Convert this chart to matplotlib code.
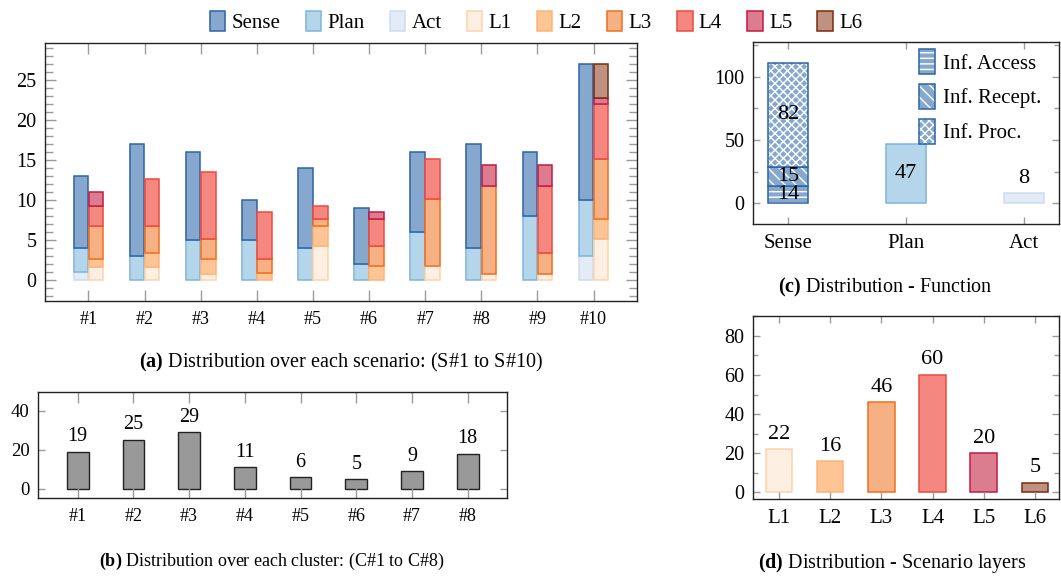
import numpy as np
import matplotlib
matplotlib.use("Agg")
import matplotlib.pyplot as plt
from matplotlib.patches import Patch
from matplotlib.legend_handler import HandlerTuple

plt.rcParams['font.family'] = ['Liberation Serif', 'DejaVu Serif']
plt.rcParams['mathtext.fontset'] = 'custom'
plt.rcParams['mathtext.rm'] = 'Liberation Serif'
plt.rcParams['mathtext.it'] = 'Liberation Serif:italic'
plt.rcParams['mathtext.bf'] = 'Liberation Serif:bold'
plt.rcParams['hatch.linewidth'] = 1.0

# (a) distribution over each scenario
scenarios = ['#%d' % i for i in range(1, 11)]
act_a = [1, 0, 0, 0, 0, 0, 0, 0, 0, 3]
plan_a = [3, 3, 5, 5, 4, 2, 6, 4, 8, 7]
sense_a = [9, 14, 11, 5, 10, 7, 10, 13, 8, 17]
l1_a = [1.7, 1.67, 0.75, 0, 4.25, 0, 1.75, 0.83, 0.83, 5.08]
l2_a = [0.9, 1.73, 1.83, 0.92, 2.5, 1.75, 0, 0, 0, 2.52]
l3_a = [4.15, 3.35, 2.5, 1.66, 0.83, 2.5, 8.42, 10.97, 2.59, 7.5]
l4_a = [2.55, 5.85, 8.38, 5.88, 1.72, 3.33, 5.0, 0, 8.38, 6.86]
l5_a = [1.7, 0, 0, 0, 0, 0.88, 0, 2.53, 2.53, 0.74]
l6_a = [0, 0, 0, 0, 0, 0, 0, 0, 0, 4.3]

# (b) distribution over each cluster
clusters = ['#%d' % i for i in range(1, 9)]
cluster_counts = [19, 25, 29, 11, 6, 5, 9, 18]

# (c) distribution - function
functions = ['Sense', 'Plan', 'Act']
inf_access = 14
inf_recept = 15
inf_proc = 82
plan_total = 47
act_total = 8

# (d) distribution - scenario layers
layers = ['L1', 'L2', 'L3', 'L4', 'L5', 'L6']
layer_counts = [22, 16, 46, 60, 20, 5]

# colours (fill, edge)
c_sense = ('#87A8CE', '#2B63A8')
c_plan = ('#B5D5EA', '#7EB5DB')
c_act = ('#E2EBF6', '#CCDDF0')
c_layers = [('#FDEFE2', '#FDD3AA'), ('#FDC594', '#FDB47A'), ('#F5B184', '#F26F1E'),
            ('#F4877F', '#EE4A3E'), ('#DB7D8F', '#C11B42'), ('#BE9280', '#7F2A0C')]

tick_gray = '#9A9A9A'
FS_TICK = 14.5
FS_VAL = 16
FS_CAP = 14.5


def style_axes(ax, minor=None, major_len=5, minor_len=3.5, ysize=FS_TICK):
    ax.tick_params(which='both', direction='in', top=True, right=True, color=tick_gray, width=1.0)
    ax.tick_params(which='major', length=major_len)
    ax.tick_params(which='minor', length=minor_len)
    ax.tick_params(axis='y', labelsize=ysize, pad=6)
    for s in ax.spines.values():
        s.set_linewidth(1.0)
        s.set_color('#222222')
    if minor is not None:
        ax.yaxis.set_minor_locator(matplotlib.ticker.MultipleLocator(minor))


fig = plt.figure(figsize=(10.61, 5.79), dpi=100)
W, H = 1061, 579


def add_ax(l, r, t, b):
    return fig.add_axes([l / W, 1 - b / H, (r - l) / W, (b - t) / H])


# ---------- (a)
ax = add_ax(45, 637, 43, 301)
x = np.arange(1, 11)
bw = 0.26
off = 0.135


def stack(ax, xs, segs, colors, w):
    bottom = np.zeros(len(xs))
    for vals, (fc, ec) in zip(segs, colors):
        vals = np.array(vals, dtype=float)
        m = vals > 0
        ax.bar(xs[m], vals[m], w, bottom=bottom[m], color=fc, edgecolor=ec, linewidth=1.1)
        bottom += vals


stack(ax, x - off, [act_a, plan_a, sense_a], [c_act, c_plan, c_sense], bw)
stack(ax, x + off, [l1_a, l2_a, l3_a, l4_a, l5_a, l6_a], c_layers, bw)
ax.set_xlim(1 - 0.775, 10 + 0.775)
ax.set_ylim(-2.6, 29.6)
ax.set_xticks(x)
ax.set_xticklabels(scenarios)
ax.set_yticks([0, 5, 10, 15, 20, 25])
style_axes(ax, minor=1, major_len=8, minor_len=5.5)
ax.tick_params(axis='x', which='major', length=8, labelsize=13, pad=7)

# ---------- (b)
ax = add_ax(38, 507, 392, 498)
xb = np.arange(1, 9)
ax.bar(xb, cluster_counts, 0.39, color='#999999', edgecolor='#222222', linewidth=1.0)
for xi, v in zip(xb, cluster_counts):
    ax.annotate(str(v), (xi, v), xytext=(0, 4), textcoords='offset points',
                ha='center', va='bottom', fontsize=14.5)
ax.set_xlim(1 - 0.713, 8 + 0.705)
ax.set_ylim(-4.6, 49.5)
ax.set_xticks(xb)
ax.set_xticklabels(clusters)
ax.set_yticks([0, 20, 40])
style_axes(ax, ysize=13.5)
ax.tick_params(axis='x', which='major', length=8, labelsize=13, pad=7)

# ---------- (c)
ax = add_ax(753, 1059, 42, 224)
xc = np.arange(3)
wc = 0.34
sense_parts = [inf_access, inf_recept, inf_proc]
hatches = ['---', '\\\\\\', 'xxxx']
bottom = 0
handles = []
for v, h in zip(sense_parts, hatches):
    ax.bar(xc[0], v, wc, bottom=bottom, color=c_sense[0], edgecolor='white', hatch=h, linewidth=0)
    ax.bar(xc[0], v, wc, bottom=bottom, color='none', edgecolor=c_sense[1], linewidth=1.1)
    ax.text(xc[0], bottom + v / 2, str(v), ha='center', va='center', fontsize=FS_VAL)
    handles.append((Patch(facecolor=c_sense[0], edgecolor='white', hatch=h, linewidth=0),
                    Patch(facecolor='none', edgecolor=c_sense[1], linewidth=1.1)))
    bottom += v
ax.bar(xc[1], plan_total, wc, color=c_plan[0], edgecolor=c_plan[1], linewidth=1.1)
ax.text(xc[1], plan_total / 2, str(plan_total), ha='center', va='center', fontsize=FS_VAL)
ax.bar(xc[2], act_total, wc, color=c_act[0], edgecolor=c_act[1], linewidth=1.1)
ax.annotate(str(act_total), (xc[2], act_total), xytext=(0, 4), textcoords='offset points',
            ha='center', va='bottom', fontsize=FS_VAL)
ax.set_xlim(-0.30, 2.30)
ax.set_ylim(-16.3, 127.4)
ax.set_xticks(xc)
ax.set_xticklabels(functions, fontsize=15)
ax.set_yticks([0, 50, 100])
style_axes(ax, minor=25)
ax.tick_params(axis='x', pad=7)
ax.legend(handles, ['Inf. Access', 'Inf. Recept.', 'Inf. Proc.'], loc='upper right',
          bbox_to_anchor=((1041 - 753) / 306, 1 - 7 / 182), frameon=False, fontsize=15,
          handlelength=0.8, handleheight=1.5, labelspacing=0.45, handletextpad=0.35,
          borderpad=0, borderaxespad=0,
          handler_map={tuple: HandlerTuple(ndivide=1)})

# ---------- (d)
ax = add_ax(753, 1059, 316, 499)
xd = np.arange(6)
for xi, v, (fc, ec) in zip(xd, layer_counts, c_layers):
    ax.bar(xi, v, 0.52, color=fc, edgecolor=ec, linewidth=1.1)
    ax.annotate(str(v), (xi, v), xytext=(0, 4), textcoords='offset points',
                ha='center', va='bottom', fontsize=FS_VAL)
ax.set_xlim(-0.506, 5.47)
ax.set_ylim(-3.4, 90.2)
ax.set_xticks(xd)
ax.set_xticklabels(layers, fontsize=15)
ax.set_yticks([0, 20, 40, 60, 80])
style_axes(ax, minor=10)
ax.tick_params(axis='x', pad=7)

# ---------- captions
fig.text(341 / W, 1 - 362 / H, r"$\mathbf{(a)}$ Distribution over each scenario: (S#1 to S#10)",
         ha='center', va='center', fontsize=FS_CAP)
fig.text(272 / W, 1 - 561 / H, r"$\mathbf{(b)}$ Distribution over each cluster: (C#1 to C#8)",
         ha='center', va='center', fontsize=13)
fig.text(885 / W, 1 - 287 / H, r"$\mathbf{(c)}$ Distribution - Function",
         ha='center', va='center', fontsize=FS_CAP)
fig.text(892 / W, 1 - 563 / H, r"$\mathbf{(d)}$ Distribution - Scenario layers",
         ha='center', va='center', fontsize=FS_CAP)

# ---------- shared legend
leg_names = ['Sense', 'Plan', 'Act'] + layers
leg_colors = [c_sense, c_plan, c_act] + c_layers
leg_handles = [Patch(facecolor=fc, edgecolor=ec, linewidth=1.1) for fc, ec in leg_colors]
fig.legend(leg_handles, leg_names, loc='center', bbox_to_anchor=(536 / W, 1 - 22 / H), ncol=9,
           frameon=False, fontsize=15, handlelength=0.75, handleheight=1.1,
           handletextpad=0.3, columnspacing=1.2)

fig.savefig('out.png', dpi=100)
